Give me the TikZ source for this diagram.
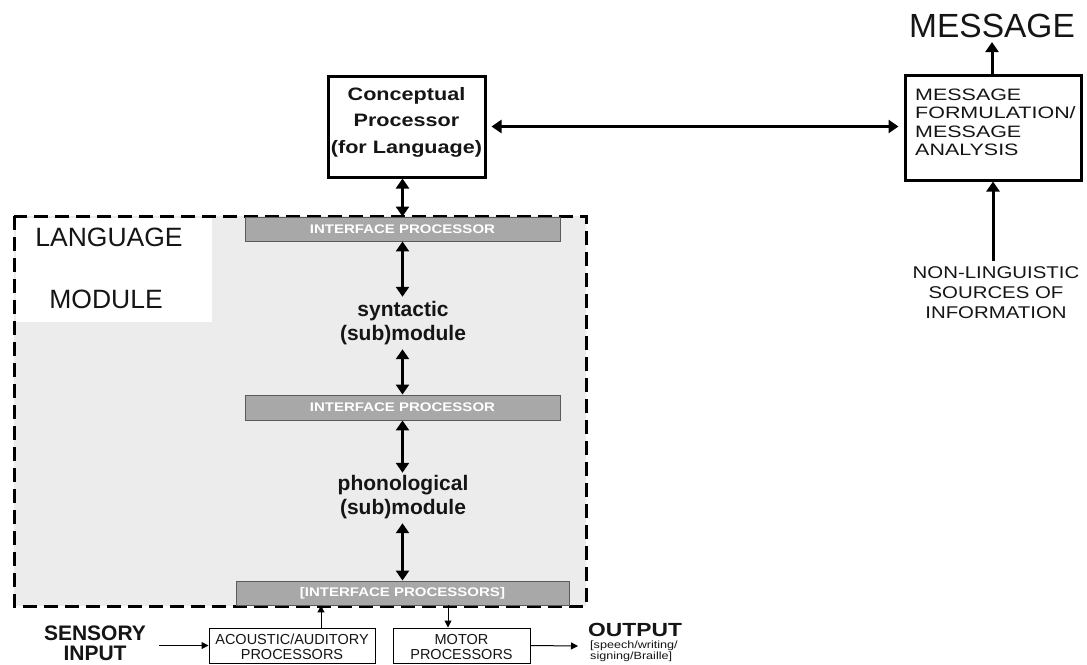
\documentclass[tikz,border=0pt]{standalone}
\usepackage{fontspec}
\setmainfont{Liberation Sans}
\newfontfamily\stA{Liberation Sans}[FakeStretch=1.2]
\newfontfamily\stB{Liberation Sans}[FakeStretch=1.3]
\usetikzlibrary{arrows.meta}
\definecolor{ink}{HTML}{151515}
\definecolor{modfill}{HTML}{ECECEC}
\definecolor{ipfill}{HTML}{A8A8A8}
\definecolor{ipline}{HTML}{5A5A5A}
\newcommand{\fs}[2]{\fontsize{#1}{#2}\selectfont}
\begin{document}
\begin{tikzpicture}[x=1pt,y=-1pt,
  every node/.style={inner sep=0pt, text=ink},
  thickbox/.style={draw=black, line width=3pt, fill=white},
  thinbox/.style={draw=black, line width=1pt, fill=white},
  ipbox/.style={draw=ipline, line width=0.9pt, fill=ipfill, text=white,
                font=\stA\bfseries\fs{12.5}{14}},
  bi/.style={line width=3pt, {Triangle[length=10pt,width=13pt]}-{Triangle[length=10pt,width=13pt]}},
  uni/.style={line width=3pt, -{Triangle[length=10pt,width=13pt]}},
  thin/.style={line width=1pt, -{Triangle[length=7pt,width=7pt]}},
  modtext/.style={align=center, font=\bfseries\fs{21}{24.5}}
]
\useasboundingbox (0,0) rectangle (1087,664);

% language module region
\fill[modfill] (14,216) rectangle (586,606);
\fill[white] (16,218) rectangle (212,322);
\draw[line width=3pt, dash pattern=on 14pt off 7pt] (14,216) rectangle (586,606);
\node[font=\fs{26.5}{30}] (lang) at (109,237) {LANGUAGE};
\node[font=\fs{26.5}{30}] (modl) at (106,299) {MODULE};

% interface processors
\node[ipbox, minimum width=315, minimum height=24] (ip1) at (402.5,229) {INTERFACE PROCESSOR};
\node[ipbox, minimum width=315, minimum height=25] (ip2) at (402.5,407.5) {INTERFACE PROCESSOR};
\node[ipbox, minimum width=333, minimum height=24] (ip3) at (402.5,593) {[INTERFACE PROCESSORS]};

% submodules
\node[modtext] (syn) at (403,323) {syntactic\\(sub)module};
\node[modtext] (pho) at (403,497) {phonological\\(sub)module};

% conceptual processor
\node[thickbox, minimum width=157, minimum height=101] (conc) at (406.5,126.5) {};
\node[align=center, font=\stA\bfseries\fs{18}{26.5}] (conct) at (406.5,122) {Conceptual\\Processor\\(for Language)};

% message box
\node[thickbox, minimum width=176, minimum height=105] (msg) at (993,127.5) {};
\node[anchor=west, align=left, font=\stB\fs{16.5}{18.5}] (msgt) at (915,122.5) {MESSAGE\\FORMULATION/\\MESSAGE\\ANALYSIS};
\node[font=\fs{33.5}{36}] (title) at (992,26) {MESSAGE};
\node[align=center, font=\stA\fs{17}{20}] (nonl) at (996,293) {NON-LINGUISTIC\\SOURCES OF\\INFORMATION};

% bottom row
\node[align=center, font=\bfseries\fs{21}{20}] (sens) at (95,643) {SENSORY\\INPUT};
\node[thinbox, minimum width=166, minimum height=35] (acou) at (292,645.5) {};
\node[align=center, font=\fs{14.5}{15}] (acout) at (292,646.5) {ACOUSTIC/AUDITORY\\PROCESSORS};
\node[thinbox, minimum width=137, minimum height=35] (mot) at (461.5,645.5) {};
\node[align=center, font=\fs{14.5}{15}] (mott) at (461.5,646.5) {MOTOR\\PROCESSORS};
\node[anchor=west, font=\stA\bfseries\fs{19}{20}] (out) at (588,630) {OUTPUT};
\node[anchor=north west, align=left, font=\stA\fs{10.5}{11}] (outs) at (590,641) {[speech/writing/\\signing/Braille]};
\coordinate (aup) at (321,628);
\coordinate (mdown) at (448,605);
\coordinate (outend) at (578,646);

% connectors
\draw[bi] (ip1.north |- conc.south) -- (ip1.north);
\draw[bi, shorten >=4pt] (ip1.south) -- (ip1.south |- syn.north);
\draw[bi, shorten <=4pt] (ip2.north |- syn.south) -- (ip2.north);
\draw[bi, shorten >=2pt] (ip2.south) -- (ip2.south |- pho.north);
\draw[bi, shorten <=4pt] (ip3.north |- pho.south) -- (ip3.north);
\draw[bi, shorten <=5pt, shorten >=5pt] (conc.east) -- (conc.east -| msg.west);
\draw[uni, shorten >=4pt] (msg.north -| title.south) -- (title.south);
\draw[uni] ([xshift=-3pt,yshift=6pt]nonl.north) -- ([xshift=-3pt]nonl.north |- msg.south);
\draw[thin, shorten <=13pt] (sens.east |- acou.west) -- (acou.west);
\draw[thin] (aup) -- (aup |- ip3.south);
\draw[thin] (mdown) -- (mdown |- mot.north);
\draw[thin] (mot.east) -- (outend);
\end{tikzpicture}
\end{document}
